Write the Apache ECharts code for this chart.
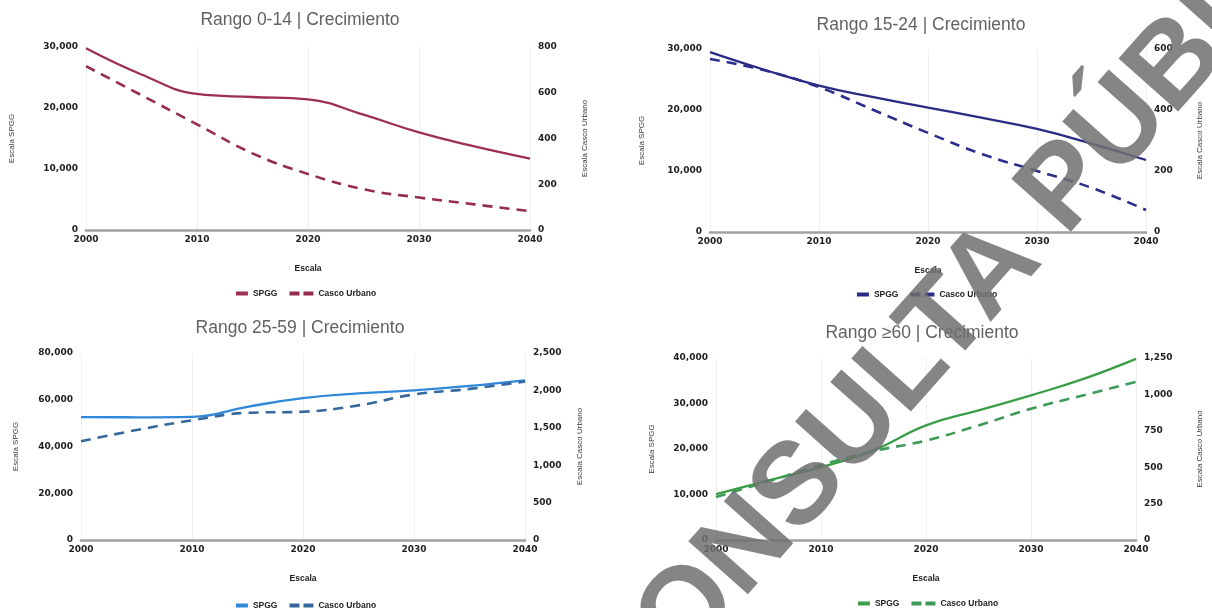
<!DOCTYPE html>
<html>
<head>
<meta charset="utf-8">
<script src="https://cdn.jsdelivr.net/npm/echarts@6/dist/echarts.min.js"></script>
<style>
  html, body { margin: 0; padding: 0; background: #ffffff; }
  #page { position: relative; width: 1212px; height: 608px; overflow: hidden; background: #ffffff; }
  .panel { position: absolute; }
</style>
</head>
<body>
<div id="page">
  <div id="p014" class="panel" style="left:0;top:0;width:600px;height:304px"></div>
  <div id="p1524" class="panel" style="left:630px;top:0;width:582px;height:304px"></div>
  <div id="p2559" class="panel" style="left:0;top:304px;width:600px;height:304px"></div>
  <div id="p60" class="panel" style="left:632px;top:304px;width:580px;height:304px"></div>
  <div id="mark" class="panel" style="left:0;top:0;width:1212px;height:608px;pointer-events:none"></div>
</div>
<script>
// Years on the horizontal axis (five-year steps)
const YEARS = [2000, 2005, 2010, 2015, 2020, 2025, 2030, 2035, 2040];

// Rango 0-14
const spgg014  = [29800, 25500, 22300, 21800, 21400, 18900, 16000, 13700, 11700];
const casco014 = [716, 589, 462, 335, 245, 178, 142, 112, 82];

// Rango 15-24
const spgg1524  = [29500, 26600, 24000, 22100, 20400, 18700, 16900, 14500, 11800];
const casco1524 = [567, 530, 475, 400, 325, 255, 200, 145, 72];

// Rango 25-59
const spgg2559  = [52600, 52500, 52700, 57000, 60700, 62700, 64000, 65900, 68300];
const casco2559 = [1320, 1470, 1600, 1700, 1715, 1800, 1945, 2020, 2120];

// Rango >=60
const spgg60  = [10100, 13100, 16000, 19700, 25200, 28500, 31800, 35400, 39800];
const casco60 = [295, 403, 515, 610, 683, 787, 901, 994, 1086];

// Axis ranges: [max, step] for SPGG (left) and Casco Urbano (right)
const AXES = {
  r014:  { left: [30000, 10000], right: [800, 200] },
  r1524: { left: [30000, 10000], right: [600, 200] },
  r2559: { left: [80000, 20000], right: [2500, 500] },
  r60:   { left: [40000, 10000], right: [1250, 250] }
};

const SERIES_NAMES = ['SPGG', 'Casco Urbano'];
const X_NAME = 'Escala';
const Y_LEFT_NAME = 'Escala SPGG';
const Y_RIGHT_NAME = 'Escala Casco Urbano';
const WATERMARK = 'CONSULTA PÚBLICA';

// Legend keys: a short solid bar and a pair of dashes
const ICON_SOLID  = 'path://M0,0M24,4M12,0H24V4H12Z';
const ICON_DASHED = 'path://M0,0M24,4M0,0H10V4H0ZM14,0H24V4H14Z';

const tickFont = { fontFamily: 'DejaVu Sans', fontWeight: 'bold', fontSize: 9, color: '#1e1e1e' };
const smallBold = { fontFamily: 'Liberation Sans', fontWeight: 'bold', fontSize: 8.5, color: '#222' };
const sideNameFont = { fontFamily: 'Liberation Sans', fontSize: 8, color: '#3a3a3a' };

function pairs(values) {
  return YEARS.map((y, i) => [y, values[i]]);
}

function panelOption(p) {
  return {
    animation: false,
    title: {
      text: p.title, left: 'center', top: p.titleTop, padding: 0,
      textStyle: { fontFamily: 'Liberation Sans', fontSize: 17.5, fontWeight: 'normal', color: '#626262' }
    },
    legend: {
      data: [
        { name: SERIES_NAMES[0], icon: ICON_SOLID },
        { name: SERIES_NAMES[1], icon: ICON_DASHED }
      ],
      left: 'center', top: p.legendTop, padding: 0,
      itemWidth: 24, itemHeight: 4, itemGap: 12,
      textStyle: smallBold
    },
    grid: { left: p.grid[0], top: p.grid[1], width: p.grid[2], height: p.grid[3] },
    xAxis: {
      type: 'value', min: 2000, max: 2040, interval: 10,
      name: X_NAME, nameLocation: 'middle', nameGap: 34,
      nameTextStyle: smallBold,
      axisLine: { onZero: false, lineStyle: { color: '#a0a0a0', width: 2.6 } },
      axisTick: { show: false },
      axisLabel: Object.assign({ margin: 5, formatter: v => String(v) }, tickFont),
      splitLine: { show: true, lineStyle: { color: '#efefef', width: 1 } }
    },
    yAxis: [
      {
        type: 'value', min: 0, max: p.axes.left[0], interval: p.axes.left[1],
        name: Y_LEFT_NAME, nameLocation: 'middle', nameRotate: 90, nameGap: p.leftGap,
        nameTextStyle: sideNameFont,
        axisLine: { show: false }, axisTick: { show: false },
        axisLabel: Object.assign({ margin: 8 }, tickFont),
        splitLine: { show: false }
      },
      {
        type: 'value', position: 'right', min: 0, max: p.axes.right[0], interval: p.axes.right[1],
        name: Y_RIGHT_NAME, nameLocation: 'middle', nameRotate: 90, nameGap: p.rightGap,
        nameTextStyle: sideNameFont,
        axisLine: { show: false }, axisTick: { show: false },
        axisLabel: Object.assign({ margin: 8 }, tickFont),
        splitLine: { show: false }
      }
    ],
    series: [
      {
        name: SERIES_NAMES[0], type: 'line', smooth: 0.45, symbol: 'none',
        data: pairs(p.spgg),
        lineStyle: { color: p.colors[0], width: 2.3 }, itemStyle: { color: p.colors[0] }
      },
      {
        name: SERIES_NAMES[1], type: 'line', smooth: 0.45, symbol: 'none', yAxisIndex: 1,
        data: pairs(p.casco),
        lineStyle: { color: p.colors[1], width: 2.6, type: [10, 7] }, itemStyle: { color: p.colors[1] }
      }
    ]
  };
}

const panels = [
  { el: 'p014', title: 'Rango 0-14 | Crecimiento', titleTop: 11, legendTop: 289,
    grid: [80, 47, 450, 183], leftGap: 70, rightGap: 51,
    axes: AXES.r014, spgg: spgg014, casco: casco014, colors: ['#9c2f52', '#962d4d'] },
  { el: 'p1524', title: 'Rango 15-24 | Crecimiento', titleTop: 16, legendTop: 290,
    grid: [80, 49, 440, 183], leftGap: 64, rightGap: 50,
    axes: AXES.r1524, spgg: spgg1524, casco: casco1524, colors: ['#2b2b86', '#2d2d8c'] },
  { el: 'p2559', title: 'Rango 25-59 | Crecimiento', titleTop: 15, legendTop: 297,
    grid: [81, 49, 444, 187], leftGap: 61, rightGap: 51,
    axes: AXES.r2559, spgg: spgg2559, casco: casco2559, colors: ['#2f88d8', '#36689e'] },
  { el: 'p60', title: 'Rango \u226560 | Crecimiento', titleTop: 20, legendTop: 295,
    grid: [84, 54, 422, 182], leftGap: 60, rightGap: 60,
    axes: AXES.r60, spgg: spgg60, casco: casco60, colors: ['#3a9e47', '#3e9a58'] }
];

panels.forEach(p => {
  const chart = echarts.init(document.getElementById(p.el), null, { renderer: 'canvas', devicePixelRatio: 1 });
  chart.setOption(panelOption(p));
});

// Diagonal stamp across the right-hand panels
const mark = echarts.init(document.getElementById('mark'), null, { renderer: 'canvas', devicePixelRatio: 1 });
mark.setOption({
  animation: false,
  graphic: [{
    type: 'text', x: 994, y: 270, rotation: 48.3 * Math.PI / 180, silent: true,
    style: {
      text: WATERMARK, font: 'bold 116px "Liberation Sans"',
      fill: 'rgba(112,112,112,0.85)', align: 'center', verticalAlign: 'middle'
    }
  }]
});
</script>
</body>
</html>
